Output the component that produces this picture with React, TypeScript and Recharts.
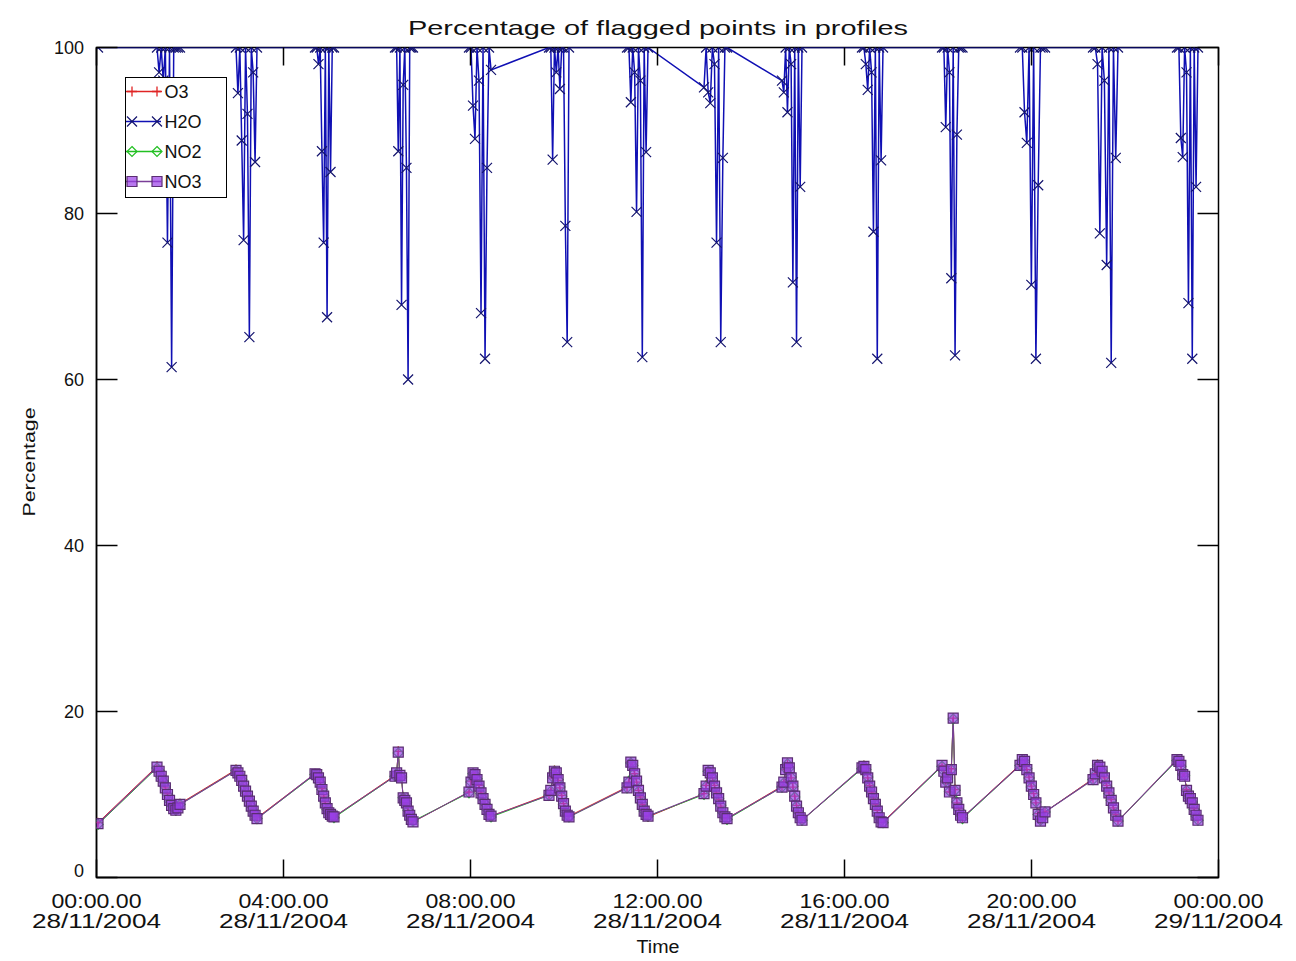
import React from 'react';
import { LineChart, Line, XAxis, YAxis, Legend, ReferenceArea } from 'recharts';

const W = 1296;
const H = 961;
const PL = 96.5;
const PR = 1218.5;
const PT = 47.5;
const PB = 877.5;
const FONT = '"Liberation Sans", Arial, Helvetica, sans-serif';

const O3_C = '#e02424';
const H2O_C = '#1010b4';
const H2O_MARK = '#14146e';
const NO2_C = '#22c022';
const NO3_C = '#7a3e98';

const SERIES_ORDER = ['o3', 'h2o', 'no2', 'no3'];

const X_TICKS = [0, 4, 8, 12, 16, 20, 24];
const X_TICK_TIME = ['00:00.00', '04:00.00', '08:00.00', '12:00.00', '16:00.00', '20:00.00', '00:00.00'];
const X_TICK_DATE = ['28/11/2004', '28/11/2004', '28/11/2004', '28/11/2004', '28/11/2004', '28/11/2004', '29/11/2004'];
const Y_TICKS = [0, 20, 40, 60, 80, 100];

// time of each profile, hours after 00:00 28/11/2004, grouped by orbit pass
const TIME_H = [
  [0.032],
  [1.294, 1.339, 1.384, 1.428, 1.473, 1.518, 1.562, 1.607, 1.652, 1.697, 1.741, 1.786],
  [2.984, 3.025, 3.066, 3.106, 3.147, 3.188, 3.229, 3.270, 3.311, 3.351, 3.392, 3.433],
  [4.674, 4.711, 4.748, 4.785, 4.822, 4.859, 4.895, 4.932, 4.969, 5.006, 5.043, 5.080],
  [6.385, 6.420, 6.455, 6.490, 6.525, 6.560, 6.595, 6.630, 6.665, 6.700, 6.735, 6.770],
  [7.968, 8.011, 8.054, 8.096, 8.139, 8.182, 8.225, 8.268, 8.311, 8.353, 8.396, 8.439],
  [9.679, 9.718, 9.757, 9.796, 9.835, 9.874, 9.912, 9.951, 9.990, 10.029, 10.068, 10.107],
  [11.348, 11.389, 11.430, 11.470, 11.511, 11.552, 11.593, 11.634, 11.675, 11.715, 11.756, 11.797],
  [12.995, 13.040, 13.084, 13.129, 13.174, 13.219, 13.263, 13.308, 13.353, 13.398, 13.442, 13.487],
  [14.663, 14.702, 14.741, 14.780, 14.819, 14.858, 14.896, 14.935, 14.974, 15.013, 15.052, 15.091],
  [16.374, 16.415, 16.456, 16.497, 16.538, 16.579, 16.619, 16.660, 16.701, 16.742, 16.783, 16.824],
  [18.086, 18.126, 18.166, 18.205, 18.245, 18.285, 18.325, 18.365, 18.404, 18.444, 18.484, 18.524],
  [19.754, 19.803, 19.851, 19.900, 19.948, 19.997, 20.046, 20.094, 20.143, 20.192, 20.240, 20.289],
  [21.316, 21.365, 21.413, 21.462, 21.510, 21.559, 21.608, 21.656, 21.705, 21.753, 21.802, 21.850],
  [23.112, 23.153, 23.194, 23.235, 23.275, 23.316, 23.357, 23.398, 23.439, 23.480, 23.520, 23.561],
];

const H2O = [
  [100],
  [100, 97, 100, 96, 100, 76.5, 100, 61.5, 100, 100, 100, 100],
  [100, 94.5, 100, 88.8, 76.8, 100, 92, 65.1, 100, 97, 86.2, 100],
  [100, 100, 98, 100, 87.5, 76.5, 100, 67.5, 100, 85, 100, 100],
  [100, 100, 87.5, 100, 69, 95.5, 100, 85.5, 60, 100, 100, 100],
  [100, 100, 93, 89, 100, 96, 68, 100, 62.5, 85.5, 100, 97.3],
  [100, 100, 86.5, 100, 97, 100, 95, 100, 100, 78.5, 64.5, 100],
  [100, 100, 93.4, 100, 97, 80.2, 100, 96, 62.7, 100, 87.4, 100],
  [95.2, 100, 94.6, 93.3, 100, 98, 76.5, 100, 64.5, 86.7, 100, 100],
  [96, 94.6, 100, 92.2, 100, 98, 71.7, 100, 64.5, 100, 83.2, 100],
  [100, 100, 98, 94.9, 100, 97, 77.8, 100, 62.5, 100, 86.4, 100],
  [100, 100, 90.4, 100, 97, 72.2, 100, 62.9, 89.5, 100, 100, 100],
  [100, 100, 92.2, 88.5, 100, 71.4, 100, 62.5, 83.4, 100, 100, 100],
  [100, 100, 98, 77.6, 100, 96, 73.8, 100, 62, 100, 86.7, 100],
  [100, 100, 89.1, 86.8, 100, 97, 69.2, 100, 62.5, 100, 83.2, 100],
];

const NO3 = [
  [6.5],
  [13.3, 12.8, 12.2, 11.6, 10.8, 10.0, 9.3, 8.7, 8.3, 8.1, 8.4, 8.8],
  [12.9, 12.6, 12.2, 11.7, 11.0, 10.4, 9.8, 9.2, 8.6, 8.0, 7.5, 7.1],
  [12.5, 12.4, 12.0, 11.5, 10.6, 9.8, 9.0, 8.3, 7.8, 7.6, 7.4, 7.3],
  [12.2, 12.6, 15.1, 12.3, 12.0, 9.6, 9.3, 9.0, 8.0, 7.5, 7.0, 6.7],
  [10.3, 11.5, 12.6, 12.4, 11.8, 11.0, 10.2, 9.5, 8.8, 8.2, 7.6, 7.4],
  [9.9, 10.5, 12.0, 12.8, 12.6, 11.8, 10.8, 9.8, 8.9, 8.0, 7.5, 7.3],
  [10.8, 11.5, 13.9, 13.5, 12.5, 11.6, 10.5, 9.6, 8.8, 8.0, 7.6, 7.4],
  [10.1, 11.0, 12.9, 12.6, 12.0, 11.0, 10.2, 9.5, 8.6, 7.8, 7.3, 7.1],
  [10.9, 11.5, 13.0, 13.8, 13.2, 12.0, 11.0, 9.8, 8.6, 7.8, 7.2, 6.9],
  [13.2, 13.4, 13.0, 12.0, 11.0, 10.3, 9.5, 8.8, 8.0, 7.2, 6.7, 6.6],
  [13.5, 12.8, 11.5, 12.0, 10.3, 13.0, 19.2, 10.5, 9.0, 8.2, 7.5, 7.2],
  [13.5, 14.2, 14.0, 13.0, 12.0, 11.0, 10.0, 9.0, 7.6, 6.8, 7.2, 7.9],
  [11.8, 12.5, 13.5, 13.3, 12.8, 12.0, 11.0, 10.2, 9.3, 8.4, 7.5, 6.8],
  [14.2, 14.0, 13.5, 12.4, 12.2, 10.5, 9.8, 9.5, 9.0, 8.2, 7.5, 6.9],
];

const NO2 = [
  [6.4],
  [13.2, 12.9, 12.1, 11.6, 10.9, 10.0, 9.2, 8.7, 8.4, 8.1, 8.3, 8.8],
  [12.9, 12.5, 12.2, 11.8, 11.0, 10.3, 9.8, 9.3, 8.6, 8.0, 7.6, 7.1],
  [12.4, 12.4, 12.1, 11.4, 10.6, 9.9, 9.0, 8.2, 7.8, 7.7, 7.4, 7.2],
  [12.2, 12.5, 15.0, 12.3, 12.1, 9.6, 9.2, 9.0, 8.1, 7.5, 7.0, 6.8],
  [10.2, 11.5, 12.5, 12.4, 11.9, 11.0, 10.1, 9.5, 8.9, 8.2, 7.6, 7.3],
  [9.9, 10.4, 12.1, 12.8, 12.5, 11.8, 10.9, 9.8, 8.8, 8.0, 7.6, 7.3],
  [10.8, 11.6, 13.8, 13.5, 12.6, 11.6, 10.4, 9.6, 8.9, 8.0, 7.5, 7.4],
  [10.0, 11.0, 12.8, 12.6, 12.1, 11.0, 10.1, 9.5, 8.7, 7.8, 7.3, 7.0],
  [10.9, 11.4, 13.1, 13.7, 13.2, 12.1, 11.0, 9.7, 8.6, 7.9, 7.2, 6.9],
  [13.1, 13.4, 13.0, 12.1, 11.0, 10.2, 9.5, 8.9, 8.0, 7.2, 6.8, 6.6],
  [13.4, 12.8, 11.6, 12.0, 10.4, 13.0, 19.1, 10.5, 9.1, 8.2, 7.5, 7.1],
  [13.5, 14.1, 14.0, 13.1, 12.0, 10.9, 10.0, 9.1, 7.6, 6.9, 7.2, 7.9],
  [11.8, 12.4, 13.5, 13.2, 12.8, 12.1, 11.0, 10.1, 9.3, 8.5, 7.5, 6.8],
  [14.1, 14.0, 13.4, 12.4, 12.3, 10.5, 9.7, 9.5, 9.1, 8.2, 7.4, 6.9],
];

const O3 = [
  [6.6],
  [13.4, 12.8, 12.3, 11.5, 10.8, 10.1, 9.3, 8.6, 8.3, 8.0, 8.4, 8.9],
  [13.0, 12.6, 12.3, 11.7, 11.1, 10.4, 9.7, 9.2, 8.5, 8.0, 7.5, 7.2],
  [12.5, 12.3, 12.0, 11.5, 10.7, 9.8, 9.1, 8.3, 7.9, 7.6, 7.3, 7.3],
  [12.3, 12.6, 15.2, 12.2, 12.0, 9.7, 9.3, 8.9, 8.0, 7.4, 7.0, 6.7],
  [10.3, 11.6, 12.6, 12.3, 11.8, 11.1, 10.2, 9.4, 8.8, 8.3, 7.6, 7.4],
  [10.0, 10.5, 12.0, 12.9, 12.6, 11.7, 10.8, 9.9, 8.9, 8.1, 7.5, 7.4],
  [10.9, 11.5, 13.9, 13.4, 12.5, 11.5, 10.5, 9.7, 8.8, 8.1, 7.6, 7.3],
  [10.1, 11.1, 12.9, 12.5, 12.0, 11.1, 10.2, 9.4, 8.6, 7.9, 7.3, 7.1],
  [11.0, 11.5, 13.0, 13.8, 13.3, 12.0, 10.9, 9.8, 8.7, 7.8, 7.3, 6.9],
  [13.2, 13.5, 13.1, 12.0, 11.1, 10.3, 9.6, 8.8, 8.1, 7.3, 6.7, 6.7],
  [13.5, 12.9, 11.5, 12.1, 10.3, 13.1, 19.2, 10.6, 9.0, 8.3, 7.5, 7.2],
  [13.6, 14.2, 14.1, 13.0, 12.1, 11.0, 10.1, 9.0, 7.7, 6.8, 7.3, 7.9],
  [11.9, 12.5, 13.6, 13.3, 12.7, 12.0, 11.1, 10.2, 9.4, 8.4, 7.6, 6.8],
  [14.2, 14.1, 13.5, 12.5, 12.2, 10.6, 9.8, 9.4, 9.0, 8.3, 7.5, 7.0],
];

const tFlat = TIME_H.flat();
const h2oFlat = H2O.flat();
const no3Flat = NO3.flat();
const no2Flat = NO2.flat();
const o3Flat = O3.flat();
const data = tFlat.map((t, i) => ({ t, o3: o3Flat[i], h2o: h2oFlat[i], no2: no2Flat[i], no3: no3Flat[i] }));

// ---- markers ----
const plusPath = (cx: number, cy: number, r: number) => `M${cx - r},${cy}H${cx + r}M${cx},${cy - r}V${cy + r}`;
const crossPath = (cx: number, cy: number, r: number) => `M${cx - r},${cy - r}L${cx + r},${cy + r}M${cx - r},${cy + r}L${cx + r},${cy - r}`;
const diamondPath = (cx: number, cy: number, r: number) => `M${cx},${cy - r}L${cx + r},${cy}L${cx},${cy + r}L${cx - r},${cy}Z`;
const squarePath = (cx: number, cy: number, r: number) => `M${cx - r},${cy - r}H${cx + r}V${cy + r}H${cx - r}Z`;

const Marker = ({ kind, cx, cy, r }: { kind: string; cx: number; cy: number; r: number }) => {
  if (kind === 'o3') return <path d={plusPath(cx, cy, r)} stroke={O3_C} strokeWidth={1.3} fill="none" />;
  if (kind === 'h2o') return <path d={crossPath(cx, cy, r)} stroke={H2O_MARK} strokeWidth={1.2} fill="none" />;
  if (kind === 'no2') return <path d={diamondPath(cx, cy, r)} stroke={NO2_C} strokeWidth={1.2} fill="none" />;
  return <path d={squarePath(cx, cy, r)} stroke="#5a2e72" strokeWidth={1.2} fill="#9a3ee8" fillOpacity={0.7} />;
};

const makeDot = (kind: string) => (p: any) => {
  const { cx, cy, index } = p;
  if (cx == null || cy == null) return <g key={`${kind}-${index}`} />;
  return (
    <g key={`${kind}-${index}`}>
      <Marker kind={kind} cx={cx} cy={cy} r={5} />
    </g>
  );
};

// ---- ticks (IDL style, drawn inward on all four sides) ----
const XTick = (props: any) => {
  const { x, payload, index } = props;
  const i = X_TICKS.indexOf(payload.value);
  const k = i >= 0 ? i : index;
  return (
    <g>
      <line x1={x} y1={PB} x2={x} y2={PB - 18} stroke="#000" strokeWidth={1.5} />
      <line x1={x} y1={PT} x2={x} y2={PT + 18} stroke="#000" strokeWidth={1.5} />
      <text x={x} y={PB + 30.5} textAnchor="middle" fontSize={20} fontFamily={FONT} fill="#111" textLength={90} lengthAdjust="spacingAndGlyphs">
        {X_TICK_TIME[k]}
      </text>
      <text x={x} y={PB + 50.5} textAnchor="middle" fontSize={20} fontFamily={FONT} fill="#111" textLength={129} lengthAdjust="spacingAndGlyphs">
        {X_TICK_DATE[k]}
      </text>
    </g>
  );
};

const YTick = (props: any) => {
  const { y, payload } = props;
  const v = payload.value;
  const base = v === 0 ? y - 1 : y + 6;
  return (
    <g>
      <line x1={PL} y1={y} x2={PL + 21} y2={y} stroke="#000" strokeWidth={1.5} />
      <line x1={PR} y1={y} x2={PR - 21} y2={y} stroke="#000" strokeWidth={1.5} />
      <text x={84} y={base} textAnchor="end" fontSize={18} fontFamily={FONT} fill="#111">
        {v}
      </text>
    </g>
  );
};

// ---- legend ----
const renderLegend = (props: any) => {
  const payload: any[] = [...(props.payload || [])].sort(
    (a: any, b: any) => SERIES_ORDER.indexOf(String(a.dataKey)) - SERIES_ORDER.indexOf(String(b.dataKey)),
  );
  return (
    <div style={{ width: 102, height: 121, border: '1.5px solid #000', background: '#fff', boxSizing: 'border-box' }}>
      <svg width={99} height={118} style={{ display: 'block' }}>
        {payload.map((e: any, i: number) => {
          const kind = String(e.dataKey ?? SERIES_ORDER[i]);
          const cy = 13.5 + i * 30;
          const color = kind === 'o3' ? O3_C : kind === 'h2o' ? H2O_C : kind === 'no2' ? NO2_C : NO3_C;
          return (
            <g key={kind}>
              <line x1={0} y1={cy} x2={35} y2={cy} stroke={color} strokeWidth={1.3} />
              <Marker kind={kind} cx={6} cy={cy} r={5} />
              <Marker kind={kind} cx={31} cy={cy} r={5} />
              <text x={38.5} y={cy + 6.5} fontSize={18} fontFamily={FONT} fill="#111">
                {e.value}
              </text>
            </g>
          );
        })}
      </svg>
    </div>
  );
};

export default function App() {
  return (
    <div style={{ position: 'absolute', left: 0, top: 0, width: W, height: H, background: '#fff' }}>
      <LineChart
        width={W}
        height={H}
        data={data}
        margin={{ top: PT, right: W - PR, bottom: H - PB - 60, left: PL - 60 }}
      >
        <ReferenceArea x1={0} x2={24} y1={0} y2={100} fill="none" stroke="#000" strokeWidth={1.5} ifOverflow="visible" />
        <XAxis
          type="number"
          dataKey="t"
          domain={[0, 24]}
          ticks={X_TICKS}
          allowDataOverflow
          height={60}
          tickSize={0}
          tickMargin={0}
          tickLine={false}
          axisLine={{ stroke: '#000', strokeWidth: 1.5 }}
          tick={<XTick />}
          interval={0}
        />
        <YAxis
          type="number"
          domain={[0, 100]}
          ticks={Y_TICKS}
          allowDataOverflow
          width={60}
          tickSize={0}
          tickMargin={0}
          tickLine={false}
          axisLine={{ stroke: '#000', strokeWidth: 1.5 }}
          tick={<YTick />}
          interval={0}
        />
        <Legend
          layout="vertical"
          align="center"
          verticalAlign="middle"
          content={renderLegend}
          wrapperStyle={{ position: 'absolute', left: 125, top: 77, width: 102, height: 121, bottom: 'auto', right: 'auto' }}
        />
        <Line type="linear" dataKey="o3" name="O3" stroke={O3_C} strokeWidth={1} dot={makeDot('o3')} activeDot={false} isAnimationActive={false} />
        <Line type="linear" dataKey="h2o" name="H2O" stroke={H2O_C} strokeWidth={1.5} dot={makeDot('h2o')} activeDot={false} isAnimationActive={false} />
        <Line type="linear" dataKey="no2" name="NO2" stroke={NO2_C} strokeWidth={1} dot={makeDot('no2')} activeDot={false} isAnimationActive={false} />
        <Line type="linear" dataKey="no3" name="NO3" stroke={NO3_C} strokeWidth={1.1} dot={makeDot('no3')} activeDot={false} isAnimationActive={false} />
      </LineChart>
      <svg width={W} height={H} style={{ position: 'absolute', left: 0, top: 0, pointerEvents: 'none' }}>
        <text x={658} y={35} textAnchor="middle" fontSize={21} fontFamily={FONT} fill="#111" textLength={500} lengthAdjust="spacingAndGlyphs">
          Percentage of flagged points in profiles
        </text>
        <text x={658} y={953} textAnchor="middle" fontSize={18} fontFamily={FONT} fill="#111" textLength={43} lengthAdjust="spacingAndGlyphs">
          Time
        </text>
        <text
          x={35}
          y={462}
          textAnchor="middle"
          fontSize={17}
          fontFamily={FONT}
          fill="#111"
          textLength={109}
          lengthAdjust="spacingAndGlyphs"
          transform="rotate(-90 35 462)"
        >
          Percentage
        </text>
      </svg>
    </div>
  );
}
